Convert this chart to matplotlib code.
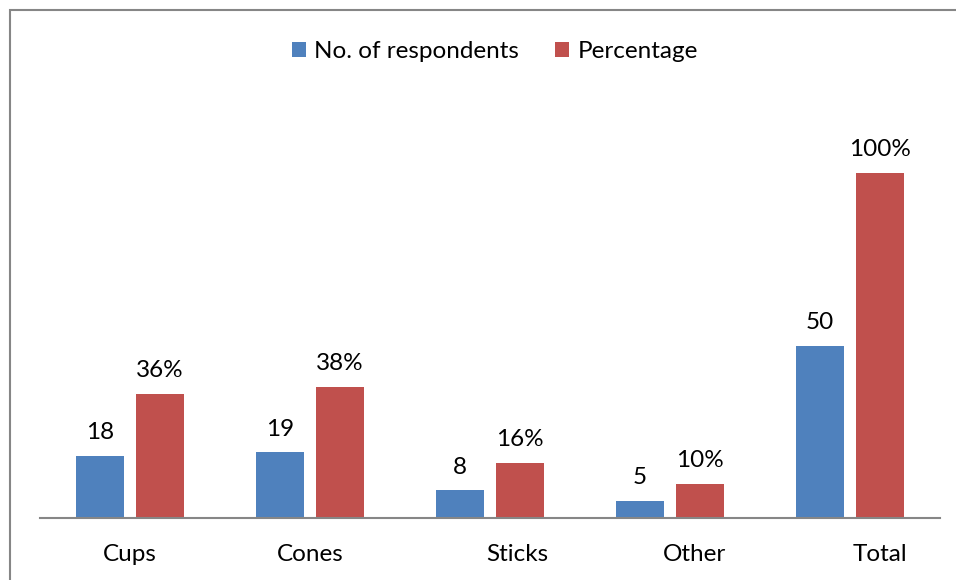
import numpy as np
import matplotlib.pyplot as plt
from matplotlib.patches import Rectangle
from matplotlib.transforms import ScaledTranslation

plt.rcParams['font.family'] = ['Lato', 'DejaVu Sans']

categories = ['Cups', 'Cones', 'Sticks', 'Other', 'Total']
respondents = [18, 19, 8, 5, 50]
percentage = [36, 38, 16, 10, 100]

blue = '#4F81BD'
red = '#C0504D'
fs = 17.5

fig = plt.figure(figsize=(9.56, 5.8), dpi=100)
ax = fig.add_axes([40 / 956, 62 / 580, 900 / 956, 414 / 580])

x = np.arange(len(categories))
w = 0.267
b1 = ax.bar(x - 0.167, respondents, w, color=blue, label='No. of respondents')
b2 = ax.bar(x + 0.167, percentage, w, color=red, label='Percentage')

for rect, v in zip(b1, respondents):
    ax.annotate(str(v), (rect.get_x() + rect.get_width() / 2, v),
                xytext=(0, 9), textcoords='offset points',
                ha='center', va='bottom', fontsize=fs)
for rect, v in zip(b2, percentage):
    ax.annotate(f'{v}%', (rect.get_x() + rect.get_width() / 2, v),
                xytext=(0, 9), textcoords='offset points',
                ha='center', va='bottom', fontsize=fs)

ax.set_xlim(-0.5, len(categories) - 0.5)
ax.set_ylim(0, 120)
ax.set_xticks(x)
ax.set_xticklabels(categories, fontsize=fs)
ax.tick_params(axis='x', length=0, pad=19)
ax.set_yticks([])

# the category labels sit a bit right of their groups for the last three
shifts = [0, 0, 27, 24, 30]
for lab, s in zip(ax.get_xticklabels(), shifts):
    lab.set_transform(lab.get_transform() + ScaledTranslation(s / 100, 0, fig.dpi_scale_trans))

for side in ['top', 'left', 'right']:
    ax.spines[side].set_visible(False)
ax.spines['bottom'].set_color('#868686')
ax.spines['bottom'].set_linewidth(1.5)

ax.legend(loc='upper center', bbox_to_anchor=(495 / 956, 1 - 24 / 580),
          bbox_transform=fig.transFigure, ncol=2, frameon=False,
          fontsize=fs, handlelength=0.55, handleheight=0.55,
          handletextpad=0.35, columnspacing=1.5, borderpad=0.2)

# chart border
fig.add_artist(Rectangle((10 / 956, -0.1), 1.2, 1.1 - 10 / 580,
                         transform=fig.transFigure, fill=False,
                         edgecolor='#868686', linewidth=1.5))

plt.savefig('out.png', dpi=100)
